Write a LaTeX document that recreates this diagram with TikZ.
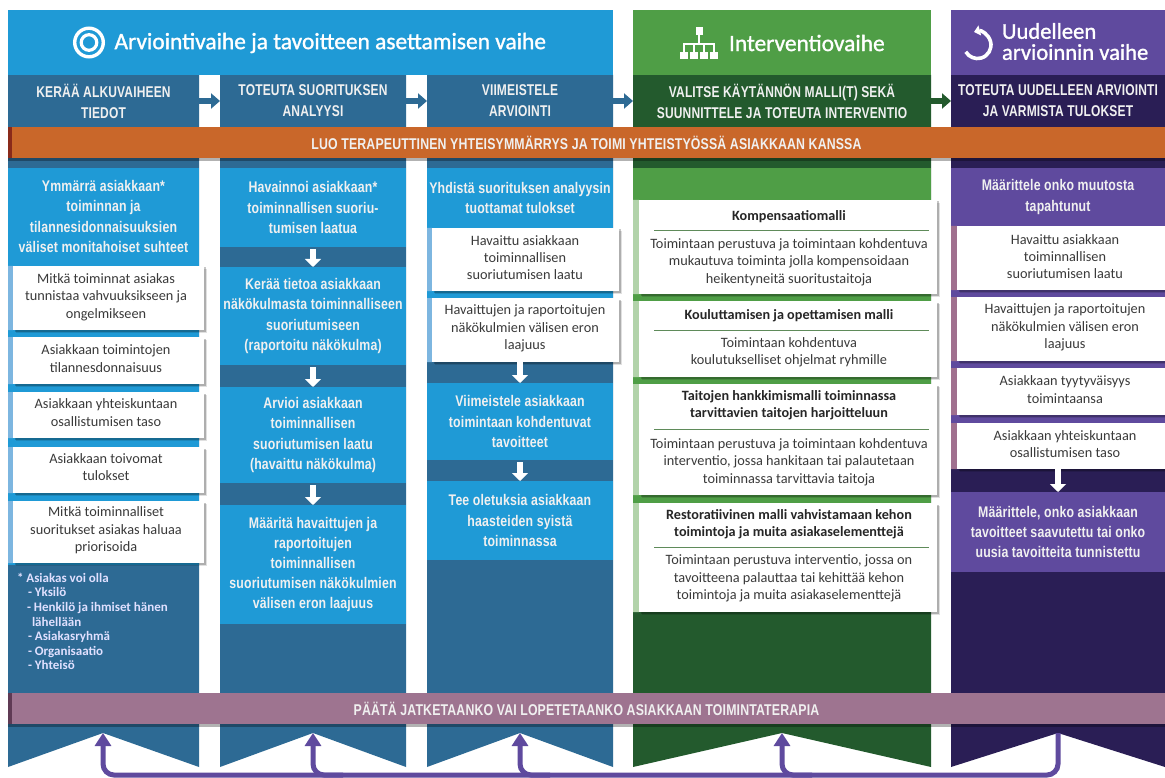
\documentclass[tikz,border=0pt]{standalone}
\usepackage{fontspec}
\usetikzlibrary{arrows.meta,shadows,calc}
\setmainfont{Carlito}
\newfontfamily\medf[FakeBold=1.2]{Carlito}
\newfontfamily\condh[FakeStretch=0.77,LetterSpace=1]{Liberation Sans}
\newfontfamily\condb[FakeStretch=0.80,LetterSpace=1]{Liberation Sans}
\newfontfamily\condc[FakeStretch=0.79,LetterSpace=1]{Liberation Sans}
\definecolor{lblue}{HTML}{1F9AD6}
\definecolor{dblue}{HTML}{2D6A94}
\definecolor{sblue}{HTML}{7DB6E0}
\definecolor{lgreen}{HTML}{4F9E46}
\definecolor{dgreen}{HTML}{235A2D}
\definecolor{sgreen}{HTML}{B2D3AA}
\definecolor{lpurple}{HTML}{5F4A9E}
\definecolor{dpurple}{HTML}{2A1E55}
\definecolor{spurple}{HTML}{A0708F}
\definecolor{orangeband}{HTML}{C9672A}
\definecolor{orangeedge}{HTML}{8A2A1A}
\definecolor{mauveband}{HTML}{9E7490}
\definecolor{mauveedge}{HTML}{5F3A54}
\definecolor{cardtext}{HTML}{3A3A3A}
\newcommand{\bx}[7]{%
  \pgfmathsetmacro\bxw{#5-#3}\pgfmathsetmacro\bxh{#6-#4}%
  \pgfmathsetmacro\bxcx{(#3+#5)/2}\pgfmathsetmacro\bxcy{(#4+#6)/2}%
  \node[#2,minimum width=\bxw pt,minimum height=\bxh pt] (#1) at (\bxcx,\bxcy) {#7};}
\tikzset{
  plain/.style={inner sep=0pt,outer sep=0pt,align=center,text=white},
  headtext/.style={plain,font=\condh\bfseries\fontsize{15.6}{21}\selectfont,text=white!94!black},
  blocktext/.style={plain,font=\condb\bfseries\fontsize{15.4}{20.2}\selectfont,text=white!94!black},
  bandtext/.style={plain,font=\condc\bfseries\fontsize{15.6}{16}\selectfont,text=white!94!black},
  phasetext/.style={plain,font=\medf\fontsize{23.4}{21}\selectfont,anchor=west,align=left},
  phasetwo/.style={phasetext,font=\medf\fontsize{22.6}{21}\selectfont},
  cardshadow/.style={copy shadow={shadow xshift=3pt,shadow yshift=-3pt,opacity=.12,fill=black,draw=none},copy shadow={shadow xshift=1.5pt,shadow yshift=-1.5pt,opacity=.22,fill=black,draw=none}},
  cardbox/.style={plain,fill=white,cardshadow},
  cardtxt/.style={inner sep=0pt,outer sep=0pt,align=center,text=cardtext,font=\fontsize{14.3}{17.4}\selectfont},
  cardtitle/.style={inner sep=0pt,outer sep=0pt,align=center,text=black!85,font=\bfseries\fontsize{14.2}{17.4}\selectfont},
  colarrow/.style={line width=6pt,-{Triangle[width=15pt,length=9pt]}},
  whitearrow/.style={white,line width=6pt,-{Triangle[width=16pt,length=8pt]},shorten <=2pt},
  loopline/.style={lpurple,line width=5pt},
  looparrow/.style={lpurple,line width=5pt,-{Triangle[width=16pt,length=13pt]}},
  rulegreen/.style={draw=lgreen!70!black!80,line width=.9pt},
  bandshadow/.style={copy shadow={shadow xshift=0pt,shadow yshift=-3pt,opacity=.3,fill=black,draw=none}},
}
\begin{document}
\begin{tikzpicture}[x=1pt,y=-1pt]
\useasboundingbox (0,0) rectangle (1165,778);
\fill[white] (0,0) rectangle (1165,778);
% column bodies with notches
\fill[dblue] (8,75)--(199,75)--(199,767)--(103,733)--(8,767)--cycle;
\fill[dblue] (220,75)--(406,75)--(406,767)--(313,733)--(220,767)--cycle;
\fill[dblue] (427,75)--(613,75)--(613,767)--(520,733)--(427,767)--cycle;
\fill[dgreen] (633,75)--(931,75)--(931,767)--(782,733)--(633,767)--cycle;
\fill[dpurple] (951,75)--(1165,75)--(1165,767)--(1058,733)--(951,767)--cycle;
% phase headers
\bx{ph1}{plain,fill=lblue}{8}{10}{613}{75}{}
\bx{ph2}{plain,fill=lgreen}{633}{10}{931}{75}{}
\bx{ph3}{plain,fill=lpurple}{951}{10}{1165}{75}{}
% target icon
\coordinate (target) at (89,42.5);
\draw[white,line width=3.4pt] (target) circle[radius=14.3];
\draw[white,line width=3.2pt] (target) circle[radius=7.8];
\node[phasetext] (tph1) at (114.5,43) {Arviointivaihe ja tavoitteen asettamisen vaihe};
% org chart icon
\fill[white] (695.5,27) rectangle (702.5,35);
\draw[white,line width=1.3pt] (699,35)--(699,44) (684,52)--(684,44)--(714,44)--(714,52) (694,44)--(694,52) (704,44)--(704,52);
\foreach \xx in {680,690,700,710}{\fill[white] (\xx,52) rectangle (\xx+8.2,59);}
\node[phasetext] (tph2) at (729,43) {Interventiovaihe};
% refresh icon
\coordinate (rc) at (978,45);
\draw[white,line width=3.6pt,{Triangle[width=10pt,length=6pt]}-] ($(rc)+(-4,-13)$) arc[start angle=-105,end angle=150,radius=13.5];
\node[phasetwo] (tph3) at (1002,41.5) {Uudelleen\\[0pt]arvioinnin vaihe};
% step headers
\bx{h1}{headtext,fill=dblue}{8}{75}{199}{127}{KERÄÄ ALKUVAIHEEN\\TIEDOT}
\bx{h2}{headtext,fill=dblue}{220}{75}{406}{127}{TOTEUTA SUORITUKSEN\\ANALYYSI}
\bx{h3}{headtext,fill=dblue}{427}{75}{613}{127}{VIIMEISTELE\\ARVIOINTI}
\bx{h4}{headtext,fill=dgreen}{633}{75}{931}{127}{VALITSE KÄYTÄNNÖN MALLI(T) SEKÄ\\SUUNNITTELE JA TOTEUTA INTERVENTIO}
\bx{h5}{headtext,fill=dpurple}{951}{75}{1165}{127}{TOTEUTA UUDELLEEN ARVIOINTI\\JA VARMISTA TULOKSET}
\draw[colarrow,dblue] (h1.east) -- (h2.west);
\draw[colarrow,dblue] (h2.east) -- (h3.west);
\draw[colarrow,dblue] (h3.east) -- (h4.west);
\draw[colarrow,dgreen] (h4.east) -- (h5.west);
% column 1
\bx{c1a}{blocktext,fill=lblue}{8}{168}{199}{265}{Ymmärrä asiakkaan*\\toiminnan ja\\tilannesidonnaisuuksien\\väliset monitahoiset suhteet}
\fill[lblue] (8,265) rectangle (199,565);
% column 2
\bx{c2a}{blocktext,fill=lblue}{220}{168}{406}{247}{Havainnoi asiakkaan*\\toiminnallisen suoriu-\\tumisen laatua}
\bx{c2b}{blocktext,fill=lblue}{220}{267}{406}{365}{Kerää tietoa asiakkaan\\näkökulmasta toiminnalliseen\\suoriutumiseen\\(raportoitu näkökulma)}
\bx{c2c}{blocktext,fill=lblue}{220}{387}{406}{483}{Arvioi asiakkaan\\toiminnallisen\\suoriutumisen laatu\\(havaittu näkökulma)}
\bx{c2d}{blocktext,fill=lblue}{220}{505}{406}{624}{Määritä havaittujen ja\\raportoitujen\\toiminnallisen\\suoriutumisen näkökulmien\\välisen eron laajuus}
\draw[whitearrow] (c2a.south) -- (c2b.north);
\draw[whitearrow] (c2b.south) -- (c2c.north);
\draw[whitearrow] (c2c.south) -- (c2d.north);
% column 3
\bx{c3a}{blocktext,fill=lblue}{427}{168}{613}{228}{Yhdistä suorituksen analyysin\\tuottamat tulokset}
\fill[lblue] (427,228) rectangle (613,362);
\bx{c3b}{blocktext,fill=lblue}{427}{383}{613}{460}{Viimeistele asiakkaan\\toimintaan kohdentuvat\\tavoitteet}
\bx{c3c}{blocktext,fill=lblue}{427}{481}{613}{560}{Tee oletuksia asiakkaan\\haasteiden syistä\\toiminnassa}
% column 4 and 5 backgrounds
\fill[lgreen] (633,168) rectangle (931,612);
\bx{c5a}{blocktext,fill=lpurple}{951}{168}{1165}{226}{Määrittele onko muutosta\\tapahtunut}
\fill[lpurple] (951,226) rectangle (1165,469);
\bx{c5b}{blocktext,fill=lpurple}{951}{492}{1165}{572}{Määrittele, onko asiakkaan\\tavoitteet saavutettu tai onko\\uusia tavoitteita tunnistettu}
% column 1 cards
\fill[sblue] (8,266) rectangle (13,330) (8,337) rectangle (13,384) (8,392) rectangle (13,438) (8,447) rectangle (13,493) (8,501) rectangle (13,563);
\bx{k11}{cardbox}{13}{266}{204}{330}{}
\node[cardtxt] (t11) at (106,297) {Mitkä toiminnat asiakas\\tunnistaa vahvuuksikseen ja\\ongelmikseen};
\bx{k12}{cardbox}{13}{337}{204}{384}{}
\node[cardtxt] (t12) at (106,358.5) {Asiakkaan toimintojen\\tilannesdonnaisuus};
\bx{k13}{cardbox}{13}{392}{204}{438}{}
\node[cardtxt] (t13) at (106,412.5) {Asiakkaan yhteiskuntaan\\osallistumisen taso};
\bx{k14}{cardbox}{13}{447}{204}{493}{}
\node[cardtxt] (t14) at (106,467) {Asiakkaan toivomat\\tulokset};
\bx{k15}{cardbox}{13}{501}{204}{563}{}
\node[cardtxt] (t15) at (106,530.5) {Mitkä toiminnalliset\\suoritukset asiakas haluaa\\priorisoida};
\node[plain,anchor=north west,align=left,text=white!88!blue,font=\bfseries\fontsize{13}{14.6}\selectfont] (note) at (17,573) {* Asiakas voi olla\\[0pt]\hspace{11pt}- Yksilö\\\hspace{10pt}- Henkilö ja ihmiset hänen\\\hspace{15pt}lähellään\\\hspace{11pt}- Asiakasryhmä\\\hspace{11pt}- Organisaatio\\\hspace{11pt}- Yhteisö};
% column 3 cards
\fill[sblue] (427,228) rectangle (432,291) (427,298) rectangle (432,362);
\bx{k31}{cardbox}{432}{228}{619}{291}{}
\node[cardtxt] (t31) at (525,257.5) {Havaittu asiakkaan\\toiminnallisen\\suoriutumisen laatu};
\bx{k32}{cardbox}{432}{298}{619}{362}{}
\node[cardtxt] (t32) at (525,328.5) {Havaittujen ja raportoitujen\\näkökulmien välisen eron\\laajuus};
\draw[whitearrow,shorten <=0pt] (k32.south -| c3b.north) -- (c3b.north);
\draw[whitearrow] (c3b.south) -- (c3c.north);
% column 4 cards
\fill[sgreen] (633,200) rectangle (639,294) (633,301) rectangle (639,377) (633,384) rectangle (639,495) (633,503) rectangle (639,612);
\bx{k41}{cardbox}{639}{200}{937}{294}{}
\node[cardtitle] (g1t) at (789,217) {Kompensaatiomalli};
\draw[rulegreen] (654,230) -- (929,230);
\node[cardtxt] (g1b) at (789,262) {Toimintaan perustuva ja toimintaan kohdentuva\\mukautuva toiminta jolla kompensoidaan\\heikentyneitä suoritustaitoja};
\bx{k42}{cardbox}{639}{301}{937}{377}{}
\node[cardtitle] (g2t) at (789,316) {Kouluttamisen ja opettamisen malli};
\draw[rulegreen] (654,330) -- (929,330);
\node[cardtxt] (g2b) at (789,352.5) {Toimintaan kohdentuva\\koulutukselliset ohjelmat ryhmille};
\bx{k43}{cardbox}{639}{384}{937}{495}{}
\node[cardtitle] (g3t) at (789,405.5) {Taitojen hankkimismalli toiminnassa\\tarvittavien taitojen harjoitteluun};
\draw[rulegreen] (654,429) -- (929,429);
\node[cardtxt] (g3b) at (789,462) {Toimintaan perustuva ja toimintaan kohdentuva\\interventio, jossa hankitaan tai palautetaan\\toiminnassa tarvittavia taitoja};
\bx{k44}{cardbox}{639}{503}{937}{612}{}
\node[cardtitle] (g4t) at (789,524.5) {Restoratiivinen malli vahvistamaan kehon\\toimintoja ja muita asiakaselementtejä};
\draw[rulegreen] (654,547) -- (929,547);
\node[cardtxt] (g4b) at (789,578.5) {Toimintaan perustuva interventio, jossa on\\tavoitteena palauttaa tai kehittää kehon\\toimintoja ja muita asiakaselementtejä};
% column 5 cards
\fill[spurple] (951,226) rectangle (957,290) (951,297) rectangle (957,361) (951,368) rectangle (957,415) (951,423) rectangle (957,469);
\bx{k51}{cardbox}{957}{226}{1165}{290}{}
\node[cardtxt] (t51) at (1065,256.5) {Havaittu asiakkaan\\toiminnallisen\\suoriutumisen laatu};
\bx{k52}{cardbox}{957}{297}{1165}{361}{}
\node[cardtxt] (t52) at (1065,327.5) {Havaittujen ja raportoitujen\\näkökulmien välisen eron\\laajuus};
\bx{k53}{cardbox}{957}{368}{1165}{415}{}
\node[cardtxt] (t53) at (1065,389.5) {Asiakkaan tyytyväisyys\\toimintaansa};
\bx{k54}{cardbox}{957}{423}{1165}{469}{}
\node[cardtxt] (t54) at (1065,444) {Asiakkaan yhteiskuntaan\\osallistumisen taso};
\draw[whitearrow,shorten <=0pt] (k54.south -| c5b.north) -- (c5b.north);
% bands
\bx{orangeb}{bandtext,fill=orangeband,bandshadow}{8}{127}{1165}{158}{LUO TERAPEUTTINEN YHTEISYMMÄRRYS JA TOIMI YHTEISTYÖSSÄ ASIAKKAAN KANSSA}
\fill[orangeedge] (8,127) rectangle (12,158);
\bx{mauveb}{bandtext,fill=mauveband,bandshadow}{8}{693}{1165}{724}{PÄÄTÄ JATKETAANKO VAI LOPETETAANKO ASIAKKAAN TOIMINTATERAPIA}
\fill[mauveedge] (8,693) rectangle (12,724);
% feedback loop
\coordinate (a1) at (103,733);
\coordinate (a2) at (313,733);
\coordinate (a3) at (520,733);
\coordinate (a4) at (782,733);
\coordinate (a5) at (1058,733);
\coordinate (base) at (0,775);
\draw[loopline,rounded corners=11pt] (a5) -- (a5 |- base) -- (a1 |- base) -- ($(a1)+(0,12)$);
\draw[loopline,rounded corners=11pt] ($(a2 |- base)+(30,0)$) -- (a2 |- base) -- ($(a2)+(0,12)$);
\draw[loopline,rounded corners=11pt] ($(a3 |- base)+(30,0)$) -- (a3 |- base) -- ($(a3)+(0,12)$);
\draw[loopline,rounded corners=11pt] ($(a4 |- base)+(30,0)$) -- (a4 |- base) -- ($(a4)+(0,12)$);
\draw[looparrow] ($(a1)+(0,12)$) -- (a1);
\draw[looparrow] ($(a2)+(0,12)$) -- (a2);
\draw[looparrow] ($(a3)+(0,12)$) -- (a3);
\draw[looparrow] ($(a4)+(0,12)$) -- (a4);
\end{tikzpicture}
\end{document}
